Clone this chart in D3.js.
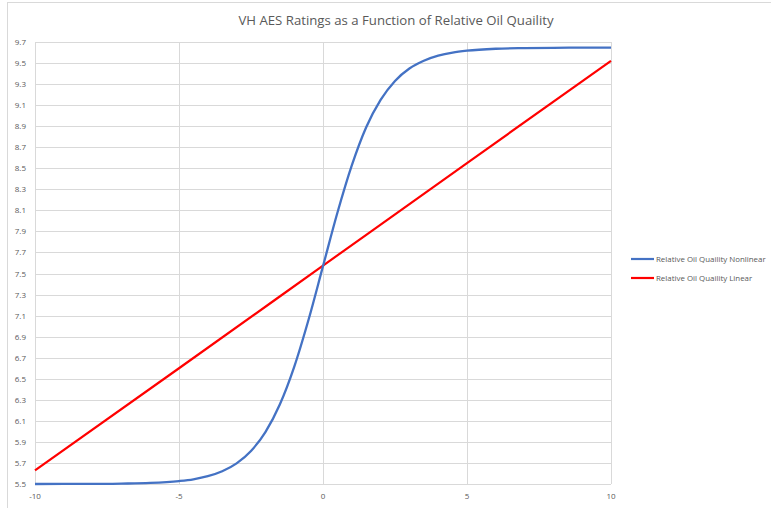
<!DOCTYPE html>
<html>
<head>
<meta charset="utf-8">
<script src="https://cdn.jsdelivr.net/npm/d3@7"></script>
<style>
  html, body { margin: 0; padding: 0; background: #fff; }
  svg { display: block; }
</style>
</head>
<body>
<svg id="chart" width="771" height="508"></svg>
<script>
// ---- data ----
const titleText = "VH AES Ratings as a Function of Relative Oil Quaility";
const seriesNames = ["Relative Oil Quaility Nonlinear", "Relative Oil Quaility Linear"];
const nonlinearX = [-10, -9, -8, -7, -6, -5, -4.5, -4, -3.5, -3, -2.5, -2, -1.5, -1, -0.5, 0, 0.5, 1, 1.5, 2, 2.5, 3, 3.5, 4, 4.5, 5, 6, 7, 8, 9, 10];
const nonlinearY = [5.500, 5.501, 5.501, 5.504, 5.510, 5.528, 5.545, 5.574, 5.621, 5.696, 5.814, 5.993, 6.255, 6.613, 7.063, 7.570, 8.077, 8.527, 8.890, 9.150, 9.330, 9.448, 9.522, 9.570, 9.600, 9.618, 9.636, 9.642, 9.645, 9.646, 9.647];
const linearX = [-10, -5, 0, 5, 10];
const linearY = [5.63, 6.60, 7.575, 8.55, 9.52];
const xTicks = [-10, -5, 0, 5, 10];
const yTicks = [5.5, 5.7, 5.9, 6.1, 6.3, 6.5, 6.7, 6.9, 7.1, 7.3, 7.5, 7.7, 7.9, 8.1, 8.3, 8.5, 8.7, 8.9, 9.1, 9.3, 9.5, 9.7];
const seriesColors = ["#4472C4", "#FF0000"];

(function () {
// ---- layout ----
const svg = d3.select("#chart");
const pLeft = 35, pRight = 611, pTop = 42, pBottom = 484;
const x = d3.scaleLinear().domain([-10, 10]).range([pLeft, pRight]);
const y = d3.scaleLinear().domain([5.5, 9.7]).range([pBottom, pTop]);
const font = "'Open Sans', 'Liberation Sans', sans-serif";
const textColor = "#595959";
const gridColor = "#d9d9d9";

// chart frame (partial, as visible)
svg.append("line").attr("x1", 7.5).attr("x2", 7.5).attr("y1", 2).attr("y2", 508)
  .attr("stroke", gridColor).attr("stroke-width", 1);
svg.append("line").attr("x1", 7).attr("x2", 771).attr("y1", 2.5).attr("y2", 2.5)
  .attr("stroke", gridColor).attr("stroke-width", 1);

// title
svg.append("text").attr("x", 396).attr("y", 25)
  .attr("text-anchor", "middle").attr("font-family", font)
  .attr("font-size", 13.2).attr("fill", textColor).text(titleText);

// horizontal gridlines
svg.append("g").selectAll("line").data(yTicks).join("line")
  .attr("x1", pLeft).attr("x2", pRight)
  .attr("y1", d => Math.round(y(d)) + 0.5).attr("y2", d => Math.round(y(d)) + 0.5)
  .attr("stroke", gridColor).attr("stroke-width", 1);

// vertical gridlines
svg.append("g").selectAll("line").data(xTicks).join("line")
  .attr("x1", d => Math.round(x(d)) + 0.5).attr("x2", d => Math.round(x(d)) + 0.5)
  .attr("y1", pTop).attr("y2", pBottom)
  .attr("stroke", gridColor).attr("stroke-width", 1);

// y tick labels
svg.append("g").selectAll("text").data(yTicks).join("text")
  .attr("x", 26).attr("y", d => y(d) + 3)
  .attr("text-anchor", "end").attr("font-family", font)
  .attr("font-size", 8).attr("fill", textColor)
  .text(d => d.toFixed(1));

// x tick labels
svg.append("g").selectAll("text").data(xTicks).join("text")
  .attr("x", d => x(d)).attr("y", 499)
  .attr("text-anchor", "middle").attr("font-family", font)
  .attr("font-size", 8).attr("fill", textColor)
  .text(d => d);

// series
const line = d3.line().x(d => x(d[0])).y(d => y(d[1])).curve(d3.curveMonotoneX);
const linData = linearX.map((v, i) => [v, linearY[i]]);
const nlData = nonlinearX.map((v, i) => [v, nonlinearY[i]]);
svg.append("path").datum(linData).attr("d", line)
  .attr("fill", "none").attr("stroke", seriesColors[1]).attr("stroke-width", 2.2);
svg.append("path").datum(nlData).attr("d", line)
  .attr("fill", "none").attr("stroke", seriesColors[0]).attr("stroke-width", 2.3)
  .attr("stroke-linejoin", "round");

// legend
const legendY = [259, 278];
const lg = svg.append("g");
lg.selectAll("line").data(seriesNames).join("line")
  .attr("x1", 631).attr("x2", 654)
  .attr("y1", (d, i) => legendY[i]).attr("y2", (d, i) => legendY[i])
  .attr("stroke", (d, i) => seriesColors[i]).attr("stroke-width", 2.2);
lg.selectAll("text").data(seriesNames).join("text")
  .attr("x", 656).attr("y", (d, i) => legendY[i] + 2.8)
  .attr("font-family", font).attr("font-size", 7.9).attr("fill", textColor)
  .text(d => d);
})();
</script>
</body>
</html>
